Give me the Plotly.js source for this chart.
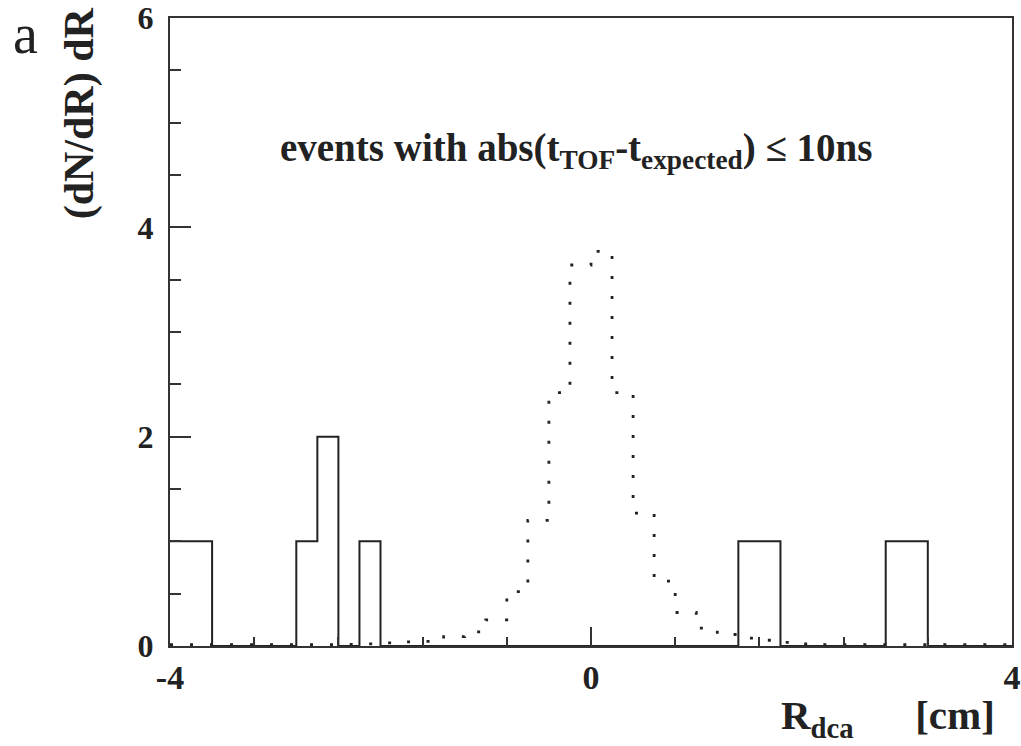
<!DOCTYPE html>
<html>
<head>
<meta charset="utf-8">
<script src="https://cdn.plot.ly/plotly-3.0.1.min.js"></script>
<style>html,body{margin:0;padding:0;background:#fff;}#chart{width:1021px;height:746px;}</style>
</head>
<body>
<div id="chart"></div>
<script>
// Bin edges (cm)
const binEdges = [-4.0,-3.8,-3.6,-3.4,-3.2,-3.0,-2.8,-2.6,-2.4,-2.2,-2.0,-1.8,-1.6,-1.4,-1.2,-1.0,-0.8,-0.6,-0.4,-0.2,
  0.0,0.2,0.4,0.6,0.8,1.0,1.2,1.4,1.6,1.8,2.0,2.2,2.4,2.6,2.8,3.0,3.2,3.4,3.6,3.8,4.0];
// Measured events (solid histogram)
const dataCounts = [1,1,0,0,0,0,1,2,0,1, 0,0,0,0,0,0,0,0,0,0, 0,0,0,0,0,0,0,1,1,0, 0,0,0,0,1,1,0,0,0,0];
// Expected distribution (dotted histogram)
const expectedCounts = [0.012,0.012,0.012,0.012,0.012,0.012,0.012,0.012,0.015,0.02,
  0.03,0.04,0.045,0.09,0.135,0.25,0.52,1.2,2.42,3.64,
  3.77,2.42,1.27,0.62,0.32,0.17,0.11,0.075,0.055,0.035,
  0.02,0.012,0.012,0.012,0.012,0.012,0.012,0.012,0.012,0.012];
const xTickVals = [-4,0,4];
const xTickText = ['-4','0','4'];
const yTickVals = [0,2,4,6];
const yTickText = ['0','2','4','6'];

const stepY = arr => arr.concat([arr[arr.length-1]]);
const ink = '#222';
const serif = 'Liberation Serif, Times New Roman, serif';

const traces = [
  {x: binEdges, y: stepY(expectedCounts), type:'scatter', mode:'lines',
   line:{shape:'hv', color:ink, width:2.8, dash:'3px,17px'}, hoverinfo:'skip'},
  {x: binEdges, y: stepY(dataCounts), type:'scatter', mode:'lines',
   line:{shape:'hv', color:ink, width:2}, hoverinfo:'skip'}
];

const layout = {
  width:1021, height:746,
  margin:{l:170, r:9, t:18, b:100},
  paper_bgcolor:'#fff', plot_bgcolor:'#fff',
  showlegend:false,
  font:{family:serif, color:ink},
  xaxis:{range:[-4,4], showgrid:false, zeroline:false,
    showline:true, mirror:true, linecolor:'#333', linewidth:2,
    ticks:'inside', tickvals:xTickVals, ticktext:xTickText, ticklen:19, tickwidth:2, tickcolor:'#333',
    minor:{ticks:'inside', tick0:-4, dtick:0.8, ticklen:9, tickwidth:2, tickcolor:'#333', showgrid:false},
    tickfont:{family:serif, size:34, color:ink, weight:'bold'}, ticklabelstandoff:0},
  yaxis:{range:[0,6], showgrid:false, zeroline:false,
    showline:true, mirror:true, linecolor:'#333', linewidth:2,
    ticks:'inside', tickvals:yTickVals, ticktext:yTickText, ticklen:21, tickwidth:2, tickcolor:'#333',
    minor:{ticks:'inside', tick0:0, dtick:0.5, ticklen:11, tickwidth:2, tickcolor:'#333', showgrid:false},
    tickfont:{family:serif, size:32, color:ink, weight:'bold'}, ticklabelstandoff:8},
  annotations:[
    {text:'<b>events with abs(t<sub>TOF</sub>-t<sub>expected</sub>) ≤ 10ns</b>', xref:'paper', yref:'paper',
     x:0.128, y:0.789, xanchor:'left', yanchor:'middle', showarrow:false,
     font:{family:serif, size:39, color:ink}},
    {text:'<b>(dN/dR) dR</b>', xref:'paper', yref:'paper', x:-0.107, y:1.02, xanchor:'center', yanchor:'top',
     textangle:-90, showarrow:false, font:{family:serif, size:42, color:ink}},
    {text:'<b>R<sub>dca</sub>      [cm]</b>', xref:'paper', yref:'paper', x:0.982, y:-0.115, xanchor:'right', yanchor:'middle',
     showarrow:false, font:{family:serif, size:41, color:ink}},
    {text:'a', xref:'paper', yref:'paper', x:-0.172, y:1.027, xanchor:'center', yanchor:'top',
     showarrow:false, font:{family:serif, size:56, color:ink}}
  ]
};
Plotly.newPlot('chart', traces, layout, {staticPlot:true});
</script>
</body>
</html>
